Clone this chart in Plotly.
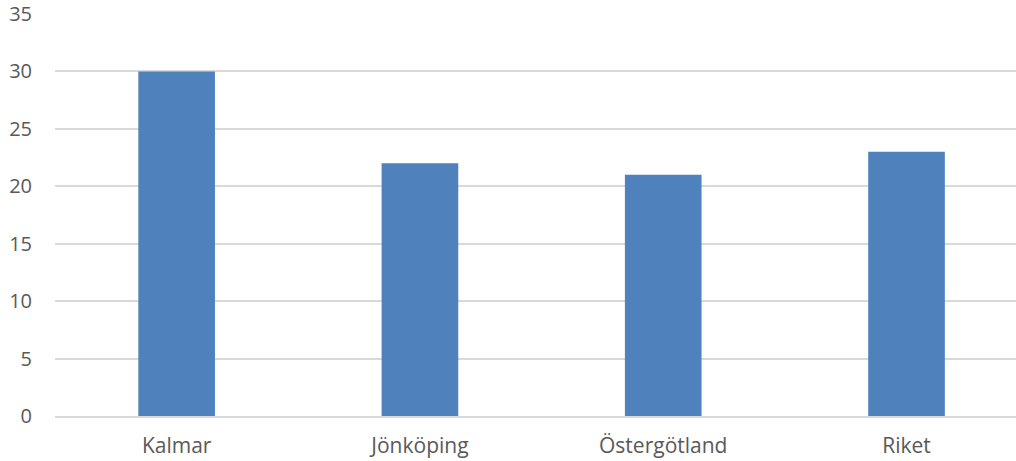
import plotly.graph_objects as go

categories = ["Kalmar", "Jönköping", "Östergötland", "Riket"]
values = [30, 22, 21, 23]
y_ticks = [0, 5, 10, 15, 20, 25, 30, 35]

fig = go.Figure(go.Bar(x=categories, y=values, marker=dict(color="#4F81BD", line=dict(width=0))))

fig.update_layout(
    width=1016, height=461,
    margin=dict(l=55, r=0, t=14, b=45),
    paper_bgcolor="white", plot_bgcolor="white",
    bargap=0.685,
    showlegend=False,
    font=dict(family="Open Sans, Liberation Sans, sans-serif", size=20, color="#595959"),
)
fig.update_xaxes(
    range=[-0.5, 3.45], showgrid=False, showline=True, linecolor="#D9D9D9", linewidth=1.5,
    ticks="", ticklabelstandoff=10, tickfont=dict(size=21, color="#595959"),
)
fig.update_yaxes(
    range=[0, 35], tickvals=y_ticks, showgrid=True, gridcolor="#D9D9D9", gridwidth=1.5,
    zeroline=False, showline=False, ticks="", ticklabelstandoff=22,
    tickfont=dict(size=20, color="#595959"),
)

fig.write_html("out.html")
